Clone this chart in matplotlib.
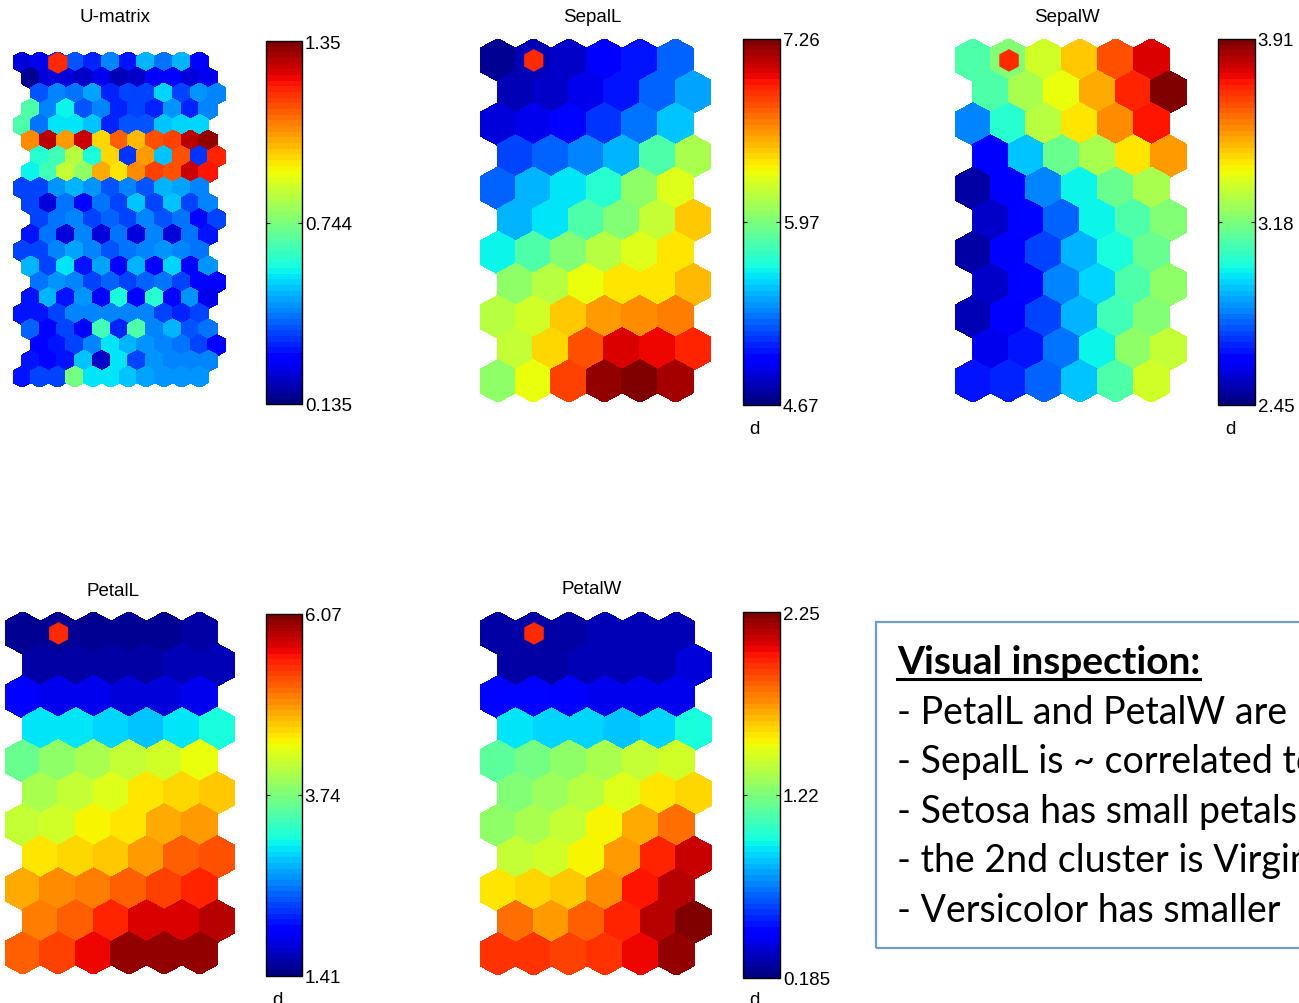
import numpy as np
import matplotlib
matplotlib.use('Agg')
import matplotlib.pyplot as plt
from matplotlib.collections import PolyCollection
from matplotlib.colors import Normalize
from matplotlib.cm import ScalarMappable
from matplotlib.lines import Line2D
from matplotlib.patches import Rectangle

plt.rcParams['font.family'] = ['Liberation Sans', 'DejaVu Sans']

W, H = 1299, 1004

# 11 x 6 hexagonal SOM of the iris data, rows listed top to bottom
sepal_l = [
    [4.72, 4.83, 4.85, 4.98, 5.06, 5.24],
    [4.83, 4.85, 4.95, 5.06, 5.27, 5.40],
    [4.88, 4.93, 5.01, 5.14, 5.29, 5.50],
    [5.19, 5.24, 5.32, 5.45, 5.81, 6.09],
    [5.24, 5.45, 5.58, 5.71, 6.02, 6.28],
    [5.47, 5.60, 5.84, 5.97, 6.17, 6.48],
    [5.63, 5.81, 5.97, 6.15, 6.25, 6.41],
    [6.02, 6.15, 6.30, 6.38, 6.41, 6.51],
    [6.15, 6.22, 6.46, 6.59, 6.64, 6.66],
    [6.17, 6.43, 6.79, 7.03, 7.00, 6.90],
    [6.02, 6.30, 6.85, 7.18, 7.26, 7.16],
]
sepal_w = [
    [3.11, 3.18, 3.33, 3.47, 3.65, 3.79],
    [3.09, 3.25, 3.37, 3.52, 3.72, 3.91],
    [2.82, 3.03, 3.28, 3.41, 3.56, 3.73],
    [2.63, 2.92, 3.14, 3.27, 3.43, 3.53],
    [2.51, 2.61, 2.82, 2.99, 3.15, 3.25],
    [2.55, 2.65, 2.79, 2.98, 3.11, 3.18],
    [2.51, 2.61, 2.74, 2.89, 3.00, 3.14],
    [2.55, 2.65, 2.82, 2.95, 3.09, 3.22],
    [2.52, 2.63, 2.74, 2.90, 3.08, 3.18],
    [2.60, 2.67, 2.80, 2.98, 3.21, 3.30],
    [2.67, 2.68, 2.77, 2.92, 3.11, 3.33],
]
petal_l = [
    [1.55, 1.50, 1.55, 1.50, 1.55, 1.60],
    [1.60, 1.60, 1.60, 1.60, 1.64, 1.69],
    [1.97, 1.88, 1.88, 1.83, 1.83, 1.88],
    [3.04, 3.04, 2.99, 2.90, 3.04, 3.18],
    [3.60, 3.83, 4.02, 4.11, 4.21, 4.39],
    [3.97, 4.11, 4.30, 4.49, 4.58, 4.67],
    [4.11, 4.21, 4.44, 4.53, 4.77, 4.86],
    [4.49, 4.58, 4.67, 4.86, 5.14, 5.23],
    [4.81, 4.91, 5.00, 5.14, 5.32, 5.42],
    [5.04, 5.14, 5.42, 5.70, 5.70, 5.79],
    [5.14, 5.28, 5.60, 5.98, 5.98, 5.93],
]
petal_w = [
    [0.25, 0.25, 0.27, 0.31, 0.31, 0.31],
    [0.27, 0.27, 0.29, 0.29, 0.29, 0.35],
    [0.45, 0.45, 0.43, 0.41, 0.39, 0.41],
    [0.91, 0.89, 0.87, 0.85, 0.89, 0.97],
    [1.13, 1.20, 1.26, 1.32, 1.40, 1.44],
    [1.22, 1.30, 1.36, 1.47, 1.57, 1.59],
    [1.26, 1.32, 1.40, 1.51, 1.69, 1.80],
    [1.38, 1.44, 1.51, 1.73, 1.96, 2.10],
    [1.57, 1.59, 1.61, 1.75, 2.00, 2.15],
    [1.80, 1.73, 1.84, 1.98, 2.15, 2.25],
    [1.94, 1.94, 1.92, 1.94, 2.04, 2.19],
]
# U-matrix, 21 x 11
umatrix = [
    [0.23, 0.26, 0.32, 0.40, 0.33, 0.44, 0.32, 0.50, 0.43, 0.50, 0.28],
    [0.16, 0.23, 0.23, 0.22, 0.26, 0.21, 0.22, 0.28, 0.28, 0.23, 0.26],
    [0.40, 0.44, 0.43, 0.48, 0.34, 0.38, 0.37, 0.54, 0.37, 0.46, 0.44],
    [0.68, 0.44, 0.58, 0.40, 0.44, 0.33, 0.38, 0.34, 0.46, 0.33, 0.44],
    [0.68, 0.43, 0.57, 0.57, 0.52, 0.34, 0.40, 0.40, 0.52, 0.55, 0.54],
    [1.05, 1.29, 1.03, 1.26, 0.97, 1.11, 0.99, 1.13, 1.16, 1.28, 1.33],
    [0.62, 0.65, 0.83, 0.60, 0.96, 0.35, 1.03, 0.52, 1.14, 0.35, 1.18],
    [0.58, 0.65, 0.84, 0.77, 1.01, 0.94, 1.05, 1.16, 1.14, 1.26, 1.20],
    [0.38, 0.38, 0.46, 0.50, 0.46, 0.40, 0.44, 0.40, 0.50, 0.48, 0.45],
    [0.38, 0.24, 0.43, 0.29, 0.43, 0.38, 0.52, 0.38, 0.52, 0.38, 0.44],
    [0.37, 0.43, 0.44, 0.38, 0.41, 0.37, 0.45, 0.39, 0.43, 0.29, 0.37],
    [0.32, 0.43, 0.24, 0.44, 0.23, 0.43, 0.23, 0.44, 0.23, 0.43, 0.31],
    [0.38, 0.38, 0.44, 0.48, 0.45, 0.39, 0.43, 0.44, 0.46, 0.44, 0.43],
    [0.50, 0.38, 0.57, 0.31, 0.48, 0.28, 0.50, 0.28, 0.54, 0.28, 0.46],
    [0.43, 0.46, 0.44, 0.38, 0.41, 0.38, 0.41, 0.43, 0.38, 0.28, 0.28],
    [0.31, 0.50, 0.32, 0.46, 0.28, 0.60, 0.28, 0.62, 0.29, 0.46, 0.26],
    [0.32, 0.32, 0.38, 0.44, 0.45, 0.44, 0.45, 0.44, 0.38, 0.33, 0.38],
    [0.41, 0.29, 0.38, 0.29, 0.65, 0.33, 0.68, 0.44, 0.50, 0.39, 0.43],
    [0.29, 0.31, 0.38, 0.45, 0.57, 0.50, 0.46, 0.44, 0.43, 0.38, 0.28],
    [0.31, 0.29, 0.32, 0.52, 0.22, 0.57, 0.38, 0.46, 0.45, 0.45, 0.44],
    [0.32, 0.37, 0.38, 0.74, 0.57, 0.57, 0.52, 0.48, 0.46, 0.46, 0.46],
]

titles = ['U-matrix', 'SepalL', 'SepalW', 'PetalL', 'PetalW']
ranges = [(0.135, 1.35), (4.67, 7.26), (2.45, 3.91), (1.41, 6.07), (0.185, 2.25)]
tick_labels = [
    ['0.135', '0.744', '1.35'],
    ['4.67', '5.97', '7.26'],
    ['2.45', '3.18', '3.91'],
    ['1.41', '3.74', '6.07'],
    ['0.185', '1.22', '2.25'],
]
hit_unit = (0, 1)   # best matching unit of the probed sample (row, col)

notes_title = 'Visual inspection:'
notes = [
    '- PetalL and PetalW are',
    '- SepalL is ~ correlated to',
    '- Setosa has small petals',
    '- the 2nd cluster is Virginica',
    '- Versicolor has smaller',
]

ROW_STEP = 0.907
HEX_H = 1.18
cmap = plt.get_cmap('jet', 64)


def hexagon(cx, cy, w, h, step):
    s = step - h / 2
    return [(cx, cy + h / 2), (cx + w / 2, cy + s), (cx + w / 2, cy - s),
            (cx, cy - h / 2), (cx - w / 2, cy - s), (cx - w / 2, cy + s)]


def px_box(x0, x1, y0, y1):
    return [x0 / W, 1 - y1 / H, (x1 - x0) / W, (y1 - y0) / H]


fig = plt.figure(figsize=(W / 100, H / 100), dpi=100)

plane_boxes = [(13, 226, 53, 388), (480, 711, 40, 403), (955, 1187, 40, 403),
               (5, 235, 613, 975), (480, 712, 613, 976)]
cbar_boxes = [(266, 302, 42, 405), (743, 780, 40, 406), (1218, 1255, 40, 406),
              (266, 302, 615, 977), (743, 780, 613, 979)]
title_pos = [(115, 18), (592, 17), (1067, 17), (113, 592), (592, 590)]
d_pos = [None, (754, 421), (1230, 421), (277, 992), (754, 992)]

planes = [umatrix, sepal_l, sepal_w, petal_l, petal_w]

for k, data in enumerate(planes):
    vals = np.array(data)
    nr, nc = vals.shape
    ax = fig.add_axes(px_box(*plane_boxes[k]))
    ax.set_axis_off()
    if k == 0:
        # U-matrix cells sit between units: half size, offsets repeat every 4 rows
        w, h, step = 0.5, HEX_H / 2, ROW_STEP / 2
        shift = [0, 0.25, 0.5, 0.25]
        centers = [(0.5 * c + shift[r % 4], -r * step) for r in range(nr) for c in range(nc)]
        hit = (0.5 * 2 * hit_unit[1] + shift[0], -2 * hit_unit[0] * step)
        ax.set_xlim(-0.25, 5.75)
        ax.set_ylim(-(nr - 1) * step - h / 2, h / 2)
    else:
        w, h, step = 1.0, HEX_H, ROW_STEP
        centers = [(c + 0.5 * (r % 2), -r * step) for r in range(nr) for c in range(nc)]
        hit = (hit_unit[1] + 0.5 * (hit_unit[0] % 2), -hit_unit[0] * step)
        ax.set_xlim(-0.5, nc)
        ax.set_ylim(-(nr - 1) * step - h / 2, h / 2)
    lo, hi = ranges[k]
    norm = Normalize(lo, hi)
    polys = [hexagon(x, y, w, h, step) for x, y in centers]
    pc = PolyCollection(polys, cmap=cmap, norm=norm, edgecolors='face',
                        linewidths=0.6, antialiased=False)
    pc.set_array(vals.ravel())
    ax.add_collection(pc)

    # hit marker on the best matching unit
    mk = np.array(hexagon(0, 0, 1.0, HEX_H, ROW_STEP)) * 0.52 + np.array(hit)
    ax.add_collection(PolyCollection([mk], facecolors='#ff2a00', edgecolors='#ff2a00',
                                     linewidths=0.5, antialiased=False))

    fig.text(title_pos[k][0] / W, 1 - title_pos[k][1] / H, titles[k],
             ha='center', va='center', fontsize=13.5)

    cax = fig.add_axes(px_box(*cbar_boxes[k]))
    cb = fig.colorbar(ScalarMappable(norm=norm, cmap=cmap), cax=cax)
    cb.set_ticks([lo, (lo + hi) / 2, hi], labels=tick_labels[k])
    cax.tick_params(direction='in', length=3, width=0.8, left=True, right=True,
                    labelsize=13.5, pad=2)
    cb.outline.set_linewidth(1.0)
    if d_pos[k] is not None:
        fig.text(d_pos[k][0] / W, 1 - d_pos[k][1] / H, 'd', ha='center', va='top',
                 fontsize=13.5)

# notes box on the lower right
fig.add_artist(Rectangle((876 / W, 1 - 949 / H), 460 / W, (949 - 623) / H,
                         transform=fig.transFigure, facecolor='none',
                         edgecolor='#6f9bd2', linewidth=1.6))
t0 = fig.text(897 / W, 1 - 674 / H, notes_title, fontsize=28, fontweight='bold',
              family='Lato', va='baseline', ha='left')
for i, line in enumerate(notes):
    fig.text(897 / W, 1 - (724 + 49.5 * i) / H, line, fontsize=27, family='Lato',
             va='baseline', ha='left')

fig.canvas.draw()
bb = t0.get_window_extent()
fig.add_artist(Line2D([bb.x0 / W, bb.x1 / W], [1 - 680 / H, 1 - 680 / H],
                      transform=fig.transFigure, color='black', linewidth=2.2))

fig.savefig('out.png', dpi=100, facecolor='white')
